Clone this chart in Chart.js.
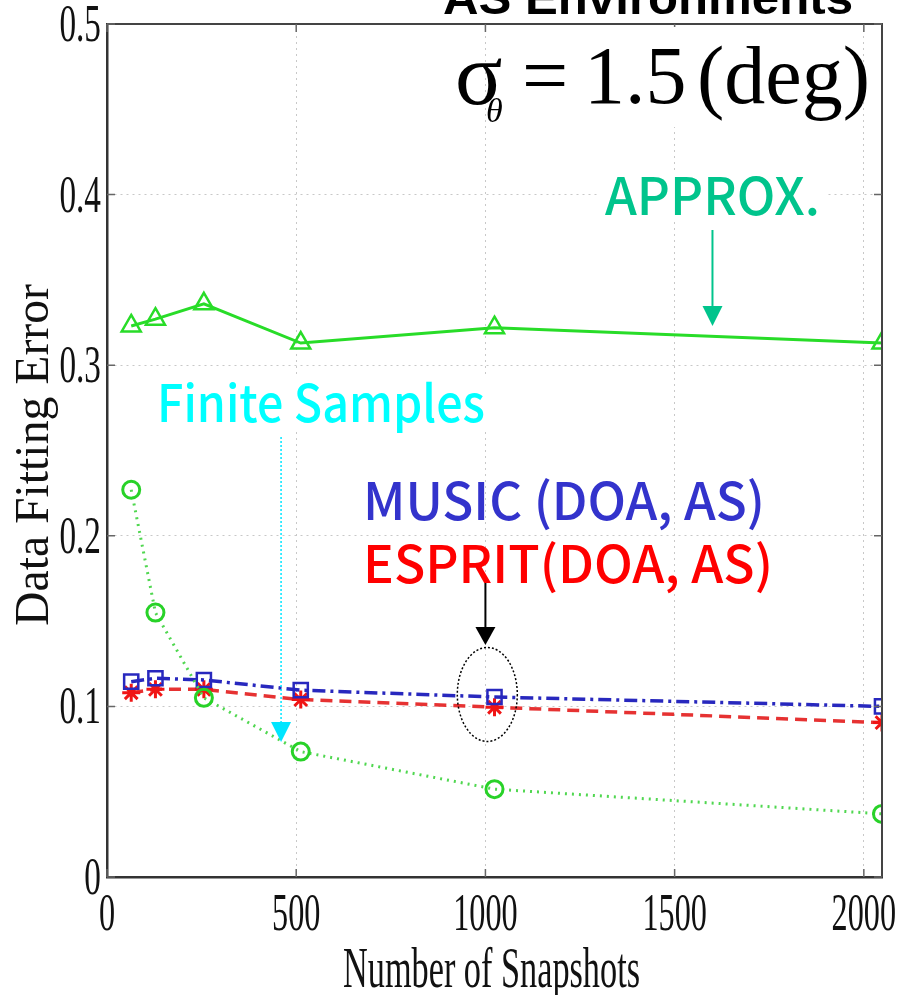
<!DOCTYPE html>
<html><head><meta charset="utf-8">
<script src="https://cdn.jsdelivr.net/npm/chart.js@4/dist/chart.umd.min.js"></script>
<style>html,body{margin:0;padding:0;background:#fff;}canvas{display:block;}</style>
</head><body>
<canvas id="c" width="904" height="995"></canvas>
<script>
// ---- data ----
const snapshots  = [64, 128, 256, 512, 1024, 2048];
const approxErr  = [0.323, 0.327, 0.336, 0.313, 0.322, 0.313];
const finiteErr  = [0.227, 0.155, 0.105, 0.0735, 0.0515, 0.037];
const musicErr   = [0.1145, 0.1165, 0.1155, 0.1095, 0.1055, 0.100];
const espritErr  = [0.108, 0.110, 0.110, 0.104, 0.0995, 0.0905];
const xTickValues = [0, 500, 1000, 1500, 2000];
const xTickLabels = ['0', '500', '1000', '1500', '2000'];
const yTickValues = [0, 0.1, 0.2, 0.3, 0.4, 0.5];
const yTickLabels = ['0', '0.1', '0.2', '0.3', '0.4', '0.5'];
const xTitle = 'Number of Snapshots';
const yTitle = 'Data Fitting Error';
const topTitle = 'AS Environments';
const labApprox = 'APPROX.';
const labFinite = 'Finite Samples';
const labMusic = 'MUSIC (DOA, AS)';
const labEsprit = 'ESPRIT(DOA, AS)';

const pts = ys => snapshots.map((x, i) => ({x: x, y: ys[i]}));

function sqText(ctx, text, x, y, font, sx, align) {
  ctx.save();
  ctx.font = font; ctx.textAlign = align; ctx.textBaseline = 'alphabetic';
  ctx.translate(x, y); ctx.scale(sx, 1);
  ctx.fillText(text, 0, 0);
  ctx.restore();
}
function fitText(ctx, text, left, right, baseline, font, color) {
  ctx.save();
  ctx.font = font; ctx.fillStyle = color; ctx.textAlign = 'left'; ctx.textBaseline = 'alphabetic';
  const w = ctx.measureText(text).width;
  ctx.translate(left, baseline); ctx.scale((right - left) / w, 1);
  ctx.fillText(text, 0, 0);
  ctx.restore();
}
function arrowDown(ctx, x, y0, y1, head, color, lw, dash) {
  ctx.save();
  ctx.strokeStyle = color; ctx.fillStyle = color; ctx.lineWidth = lw;
  ctx.setLineDash(dash || []);
  ctx.beginPath(); ctx.moveTo(x, y0); ctx.lineTo(x, y1 - head); ctx.stroke();
  ctx.setLineDash([]);
  ctx.beginPath(); ctx.moveTo(x - 10, y1 - head); ctx.lineTo(x + 10, y1 - head); ctx.lineTo(x, y1); ctx.closePath(); ctx.fill();
  ctx.restore();
}

const overlay = {
  id: 'overlay',
  afterDraw(chart) {
    const ctx = chart.ctx, xs = chart.scales.x, ys = chart.scales.y, a = chart.chartArea;
    ctx.save();
    // frame top/right
    ctx.strokeStyle = '#444'; ctx.lineWidth = 2;
    ctx.beginPath(); ctx.moveTo(a.left, a.top); ctx.lineTo(a.right, a.top); ctx.lineTo(a.right, a.bottom); ctx.stroke();
    // inward ticks
    ctx.strokeStyle = '#666'; ctx.lineWidth = 1.5;
    yTickValues.forEach(v => {
      const y = ys.getPixelForValue(v);
      ctx.beginPath(); ctx.moveTo(a.left, y); ctx.lineTo(a.left + 8, y); ctx.moveTo(a.right, y); ctx.lineTo(a.right - 8, y); ctx.stroke();
    });
    xTickValues.forEach(v => {
      const x = xs.getPixelForValue(v);
      ctx.beginPath(); ctx.moveTo(x, a.bottom); ctx.lineTo(x, a.bottom - 8); ctx.moveTo(x, a.top); ctx.lineTo(x, a.top + 8); ctx.stroke();
    });
    // tick labels
    ctx.fillStyle = '#111';
    yTickValues.forEach((v, i) => sqText(ctx, yTickLabels[i], a.left - 6, ys.getPixelForValue(v) + 17, '52px "Liberation Serif"', 0.64, 'right'));
    xTickValues.forEach((v, i) => sqText(ctx, xTickLabels[i], xs.getPixelForValue(v), a.bottom + 53, '52px "Liberation Serif"', 0.62, 'center'));
    // axis titles
    fitText(ctx, xTitle, 343, 640, 987, '58px "Liberation Serif"', '#111');
    ctx.save();
    ctx.translate(48, 626); ctx.rotate(-Math.PI / 2);
    fitText(ctx, yTitle, 0, 342, 0, '48px "Liberation Serif"', '#111');
    ctx.restore();
    // top title (cut off)
    fitText(ctx, topTitle, 443, 853, 14, 'bold 46px "Liberation Sans"', '#000');

    // sigma annotation box
    ctx.fillStyle = '#fff'; ctx.fillRect(568, 27, 290, 100);
    ctx.fillStyle = '#000';
    ctx.font = '88px "Liberation Serif"'; ctx.textBaseline = 'alphabetic'; ctx.textAlign = 'left';
    ctx.fillText('\u03c3', 455, 104);
    ctx.font = 'italic 34px "Liberation Serif"';
    ctx.fillText('\u03b8', 486, 122);
    ctx.font = '82px "Liberation Serif"';
    ctx.fillText('=', 522, 103);
    ctx.fillText('1.5', 584, 103);
    ctx.fillText('(deg)', 697, 103);

    const f = '500 51px "Noto Sans CJK JP", "Noto Sans"';
    // APPROX.
    const teal = '#00c48c';
    ctx.fillStyle = '#fff'; ctx.fillRect(600, 172, 228, 50);
    fitText(ctx, labApprox, 605, 820, 215, f, teal);
    arrowDown(ctx, xs.getPixelForValue(1600), 230, ys.getPixelForValue(0.323), 20, teal, 2);

    // Finite Samples
    ctx.fillStyle = '#fff'; ctx.fillRect(150, 378, 342, 52);
    fitText(ctx, labFinite, 157, 485, 422, f, '#00ffff');
    arrowDown(ctx, xs.getPixelForValue(460), 437, 742, 20, '#00e5ff', 1.5, [2, 2]);

    // MUSIC / ESPRIT
    fitText(ctx, labMusic, 363, 765, 520, f, '#3333cc');
    fitText(ctx, labEsprit, 363, 773, 583, f, '#ff0000');
    arrowDown(ctx, xs.getPixelForValue(1000), 583, 645, 18, '#000', 2);
    // dotted ellipse around the 1024 point
    ctx.strokeStyle = '#000'; ctx.lineWidth = 1.5; ctx.setLineDash([2, 2]);
    ctx.beginPath();
    ctx.ellipse(xs.getPixelForValue(1005), ys.getPixelForValue(0.107), 30, 47, 0, 0, Math.PI * 2);
    ctx.stroke();
    ctx.restore();
  }
};

const gridOpts = {color: '#c8c8c8', lineWidth: 1, drawTicks: false};

new Chart(document.getElementById('c'), {
  type: 'line',
  data: {
    datasets: [
      {label: 'APPROX.', data: pts(approxErr), borderColor: 'rgb(40,220,40)', borderWidth: 3,
       pointStyle: 'triangle', pointRadius: 11, pointBorderWidth: 2.5, pointBorderColor: 'rgb(40,220,40)', pointBackgroundColor: 'rgba(0,0,0,0)'},
      {label: 'Finite Samples', data: pts(finiteErr), borderColor: 'rgb(80,215,80)', borderWidth: 3, borderDash: [2, 5],
       pointStyle: 'circle', pointRadius: 8.5, pointBorderWidth: 3, pointBorderColor: 'rgb(40,210,40)', pointBackgroundColor: 'rgba(0,0,0,0)'},
      {label: 'MUSIC', data: pts(musicErr), borderColor: 'rgb(40,40,190)', borderWidth: 3.5, borderDash: [13, 5, 3, 5],
       pointStyle: 'rect', pointRadius: 10, pointBorderWidth: 2.5, pointBorderColor: 'rgb(40,40,190)', pointBackgroundColor: 'rgba(0,0,0,0)'},
      {label: 'ESPRIT', data: pts(espritErr), borderColor: 'rgb(230,50,50)', borderWidth: 3.5, borderDash: [12, 7],
       pointStyle: 'star', pointRadius: 9, pointBorderWidth: 3, pointBorderColor: 'rgb(240,20,20)', pointBackgroundColor: 'rgba(0,0,0,0)'}
    ]
  },
  options: {
    responsive: false, animation: false,
    layout: {padding: {left: 107, top: 24, right: 22, bottom: 118}},
    plugins: {legend: {display: false}, tooltip: {enabled: false}},
    elements: {line: {tension: 0}},
    scales: {
      x: {type: 'linear', min: 0, max: 2048,
          afterBuildTicks: s => { s.ticks = xTickValues.map(v => ({value: v})); },
          ticks: {display: false},
          grid: gridOpts,
          border: {display: true, color: '#333', width: 2.5, dash: [2, 4]}},
      y: {type: 'linear', min: 0, max: 0.5,
          afterBuildTicks: s => { s.ticks = yTickValues.map(v => ({value: v})); },
          ticks: {display: false},
          grid: gridOpts,
          border: {display: true, color: '#333', width: 2.5, dash: [2, 4]}}
    }
  },
  plugins: [overlay]
});
</script>
</body></html>
